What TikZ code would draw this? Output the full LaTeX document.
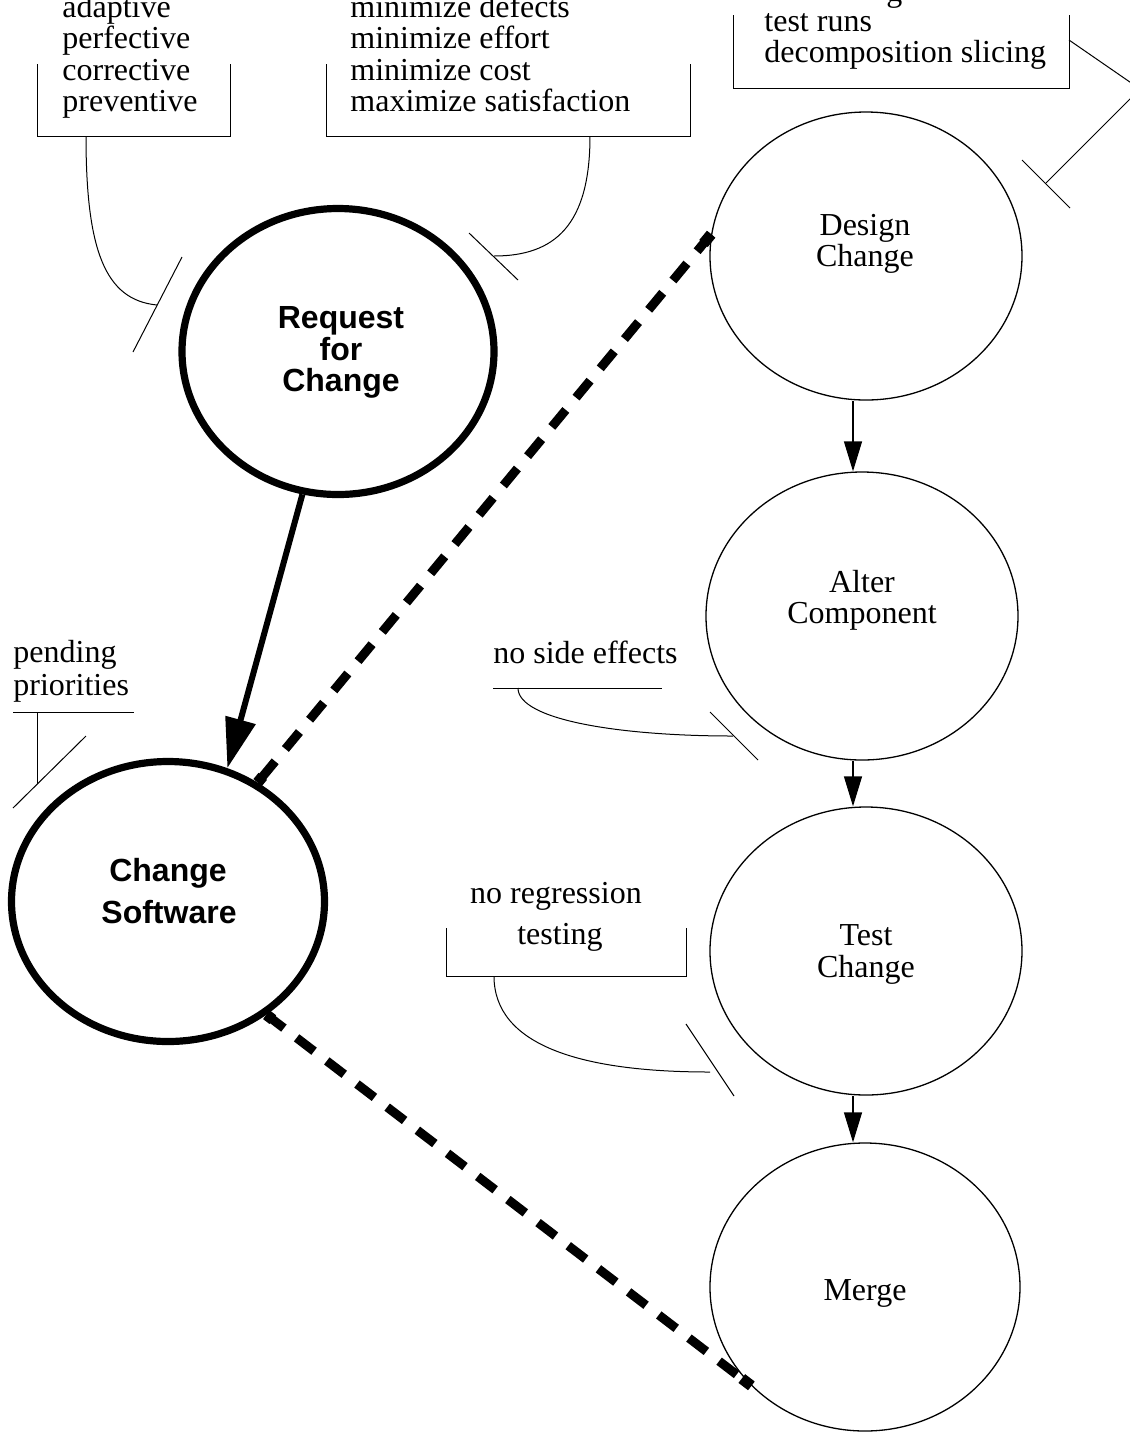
\documentclass[tikz,border=0pt]{standalone}
\usepackage{fontspec}
\setmainfont{Liberation Serif}
\setsansfont{Liberation Sans}
\usetikzlibrary{arrows.meta,shapes.geometric,calc}
\begin{document}
\begin{tikzpicture}[x=0.5pt,y=-0.5pt,
  txt/.style={inner sep=0pt,font=\fontsize{16}{16}\selectfont},
  btxt/.style={inner sep=0pt,anchor=base,font=\sffamily\bfseries\fontsize{16}{16}\selectfont},
  thinline/.style={line width=0.5pt},
  proc/.style={ellipse,draw,line width=0.65pt,inner sep=0pt,minimum width=156pt,minimum height=144pt},
  mainproc/.style={ellipse,draw,line width=3.6pt,inner sep=0pt},
  flow/.style={line width=0.65pt,-{Triangle[length=15pt,width=9pt]}},
  bigflow/.style={line width=3pt,-{Triangle[length=25pt,width=15pt]}},
  link/.style={line width=4.5pt,dash pattern=on 11pt off 8pt},
  linkend/.style={line width=5.5pt}
]
\useasboundingbox (0,0) rectangle (1130,1432);
\clip (0,0) rectangle (1130,1432);

% ---------------- ellipses
\node[mainproc,minimum width=156pt,minimum height=143pt] (rfc) at (338,351.5) {};
\node[mainproc,minimum width=156.5pt,minimum height=140pt] (cs) at (168,901.5) {};
\node[proc] (des) at (866,256) {};
\node[proc] (alt) at (862,616) {};
\node[proc] (tst) at (866,951) {};
\node[proc,minimum width=155pt] (mrg) at (865,1287) {};

% labels of ellipses
\node[btxt] (l1) at (341,328) {Request};
\node[btxt] (l2) at (341,360) {for};
\node[btxt] (l3) at (341,391) {Change};
\node[btxt] (l4) at (168,881) {Change};
\node[btxt] (l5) at (169,923) {Software};
\node[txt,anchor=base] (l6) at (865,235) {Design};
\node[txt,anchor=base] (l7) at (865,266) {Change};
\node[txt,anchor=base] (l8) at (862,592) {Alter};
\node[txt,anchor=base] (l9) at (862,623) {Component};
\node[txt,anchor=base] (l10) at (866,945) {Test};
\node[txt,anchor=base] (l11) at (866,977) {Change};
\node[txt,anchor=base] (l12) at (865,1300) {Merge};

% ---------------- flows
\coordinate (ax) at (853,0);
\draw[flow] (des.south -| ax) -- (alt.north -| ax);
\draw[flow] (alt.south -| ax) -- (tst.north -| ax);
\draw[flow] (tst.south -| ax) -- (mrg.north -| ax);
\draw[bigflow] (rfc.256) -- (cs.66.6);

% dashed links
\draw[link] (des.172.4) -- (cs.53.5);
\draw[linkend] (des.172.4) -- ($(des.172.4)!6pt!(cs.53.5)$);
\draw[linkend] (cs.53.5) -- ($(cs.53.5)!4pt!(des.172.4)$);
\draw[link] (cs.311.6) -- (mrg.221.1);
\draw[linkend] (mrg.221.1) -- ($(mrg.221.1)!6pt!(cs.311.6)$);
\draw[linkend] (cs.311.6) -- ($(cs.311.6)!4pt!(mrg.221.1)$);

% ---------------- annotation: kinds of maintenance
\node[txt,anchor=base west] (a1) at (62,17) {adaptive};
\node[txt,anchor=base west] (a2) at (62,48) {perfective};
\node[txt,anchor=base west] (a3) at (62,80) {corrective};
\node[txt,anchor=base west] (a4) at (62,111) {preventive};
\draw[thinline] (37,64) -- (37,136) -- (230,136) -- (230,64);
\coordinate (a0) at (86,136);
\coordinate (ta) at (157,305);
\draw[thinline] (a0) .. controls (86,250) and (105,300) .. (ta);
\draw[thinline] (182,257) -- (133,352);

% ---------------- annotation: goals
\node[txt,anchor=base west] (g1) at (350,17) {minimize defects};
\node[txt,anchor=base west] (g2) at (350,48) {minimize effort};
\node[txt,anchor=base west] (g3) at (350,80) {minimize cost};
\node[txt,anchor=base west] (g4) at (350,111) {maximize satisfaction};
\draw[thinline] (326,64) -- (326,136) -- (690,136) -- (690,64);
\coordinate (g0) at (590,136);
\coordinate (tg) at (494,256);
\draw[thinline] (g0) .. controls (590,225) and (555,256) .. (tg);
\draw[thinline] (469,233) -- (518,280);

% ---------------- annotation: techniques
\node[txt,anchor=base west] (d0) at (886,1) {g};
\node[txt,anchor=base west] (d1) at (764,31) {test runs};
\node[txt,anchor=base west] (d2) at (764,62) {decomposition slicing};
\draw[thinline] (733,15) -- (733,88) -- (1069,88) -- (1069,15);
\coordinate (d3) at (1069,40);
\coordinate (d4) at (1140,89);
\coordinate (td) at (1046,183);
\draw[thinline] (d3) -- (d4) -- (td);
\draw[thinline] (1022,160) -- (1070,208);

% ---------------- annotation: pending priorities
\node[txt,anchor=base west] (p1) at (13,662) {pending};
\node[txt,anchor=base west] (p2) at (13,695) {priorities};
\draw[thinline] (13,712) -- (134,712);
\coordinate (p0) at (37,712);
\coordinate (tp) at (37,784);
\draw[thinline] (p0) -- (tp);
\draw[thinline] (86,736) -- (13,808);

% ---------------- annotation: no side effects
\node[txt,anchor=base west] (s1) at (493,663) {no side effects};
\draw[thinline] (493,688) -- (662,688);
\coordinate (s0) at (518,688);
\coordinate (ts) at (733,736);
\draw[thinline] (s0) .. controls (518,720) and (620,736) .. (ts);
\draw[thinline] (710,712) -- (758,760);

% ---------------- annotation: no regression testing
\node[txt,anchor=base] (r1) at (556,903) {no regression};
\node[txt,anchor=base] (r2) at (560,944) {testing};
\draw[thinline] (446,928) -- (446,976) -- (686,976) -- (686,928);
\coordinate (r0) at (494,976);
\coordinate (tr) at (710,1072);
\draw[thinline] (r0) .. controls (494,1045) and (580,1072) .. (tr);
\draw[thinline] (686,1024) -- (734,1096);
\end{tikzpicture}
\end{document}
